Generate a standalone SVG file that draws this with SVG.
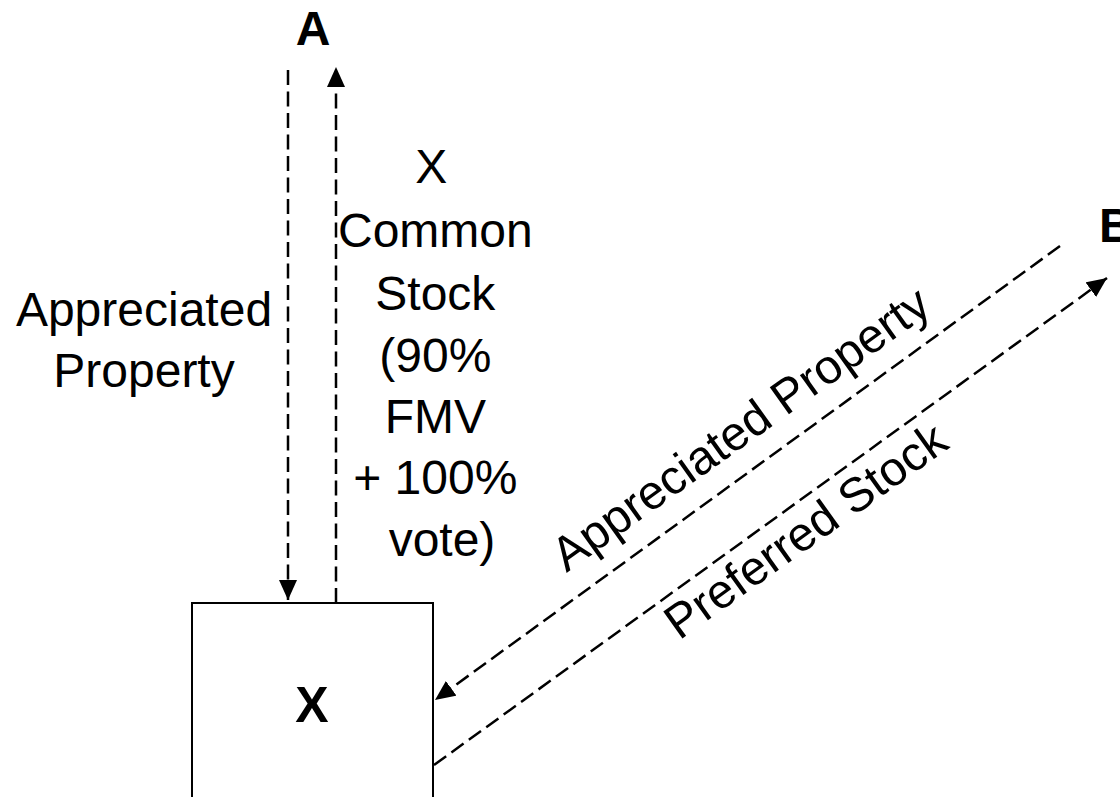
<svg xmlns="http://www.w3.org/2000/svg" width="1120" height="797" viewBox="0 0 1120 797">
<style>
.t{font-family:"Liberation Sans",Arial,sans-serif;font-size:48px;fill:#000}
.b{font-weight:bold}
.c{fill:none;stroke:#000;stroke-width:2.5;stroke-dasharray:15 6.5}
</style>
<defs>
<marker id="ah" markerUnits="userSpaceOnUse" markerWidth="22" markerHeight="20" refX="20" refY="9" orient="auto">
<path d="M0,0 L20,9 L0,18 Z" fill="#000"/>
</marker>
</defs>
<rect width="1120" height="797" fill="#fff"/>
<g id="node-A"><text class="t b" x="313" y="45" text-anchor="middle">A</text></g>
<g id="node-B"><text class="t b" x="1099" y="242">B</text></g>
<g id="node-X">
<rect x="192" y="603" width="241" height="230" fill="#fff" stroke="#000" stroke-width="2"/>
<text class="t b" x="312" y="722" text-anchor="middle" style="font-size:50px">X</text>
</g>
<g id="connectors">
<line class="c" x1="288" y1="70" x2="288" y2="600" marker-end="url(#ah)"/>
<line class="c" x1="336" y1="603" x2="336" y2="67" marker-end="url(#ah)"/>
<line class="c" x1="1060" y1="246" x2="435" y2="700" marker-end="url(#ah)"/>
<line class="c" x1="434" y1="765" x2="1107" y2="278" marker-end="url(#ah)"/>
</g>
<g id="labels">
<text class="t" text-anchor="middle"><tspan x="144" y="326">Appreciated</tspan><tspan x="144" y="387">Property</tspan></text>
<text class="t" text-anchor="middle">
<tspan x="438" y="183">X</tspan>
<tspan x="442" y="247">Common</tspan>
<tspan x="442" y="310">Stock</tspan>
<tspan x="442" y="372">(90%</tspan>
<tspan x="442" y="433">FMV</tspan>
<tspan x="442" y="494">+ 100%</tspan>
<tspan x="442" y="556">vote)</tspan>
</text>
<text class="t" text-anchor="middle" transform="translate(750,442) rotate(-35.5)">Appreciated Property</text>
<text class="t" text-anchor="middle" transform="translate(815,544) rotate(-35.5)">Preferred Stock</text>
</g>
</svg>
